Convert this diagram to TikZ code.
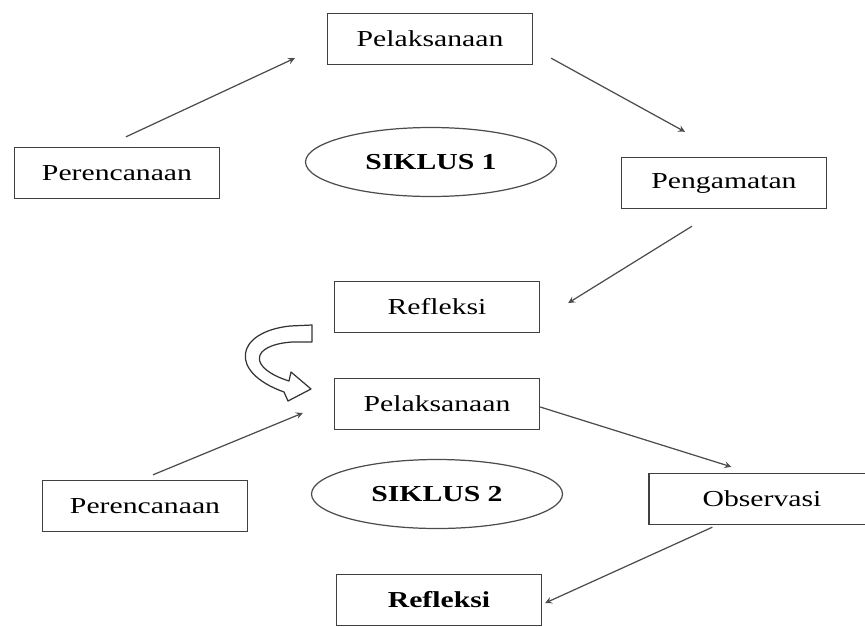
\documentclass[tikz,border=0pt]{standalone}
\usepackage{fontspec}
\setmainfont{Liberation Serif}
\newfontfamily\stagefont[FakeStretch=1.3]{Liberation Serif}
\usetikzlibrary{shapes.geometric}

\begin{document}
\begin{tikzpicture}[x=0.02cm, y=-0.02cm,
        stage/.style={draw=black!75, line width=0.8pt, minimum width=4.1cm, minimum height=1.02cm, inner sep=0pt, font=\stagefont\fontsize{13}{15}\selectfont},
        cycle/.style={ellipse, draw=black!70, line width=0.7pt, minimum width=5.02cm, minimum height=1.38cm, inner sep=0pt, font=\stagefont\bfseries\fontsize{13}{15}\selectfont},
        flow/.style={draw=black!70, line width=0.7pt, -stealth}]
        \useasboundingbox (0, 0) rectangle (865, 626);

        % Siklus 1
        \node[stage] (pel1) at (430, 39) {Pelaksanaan};
        \node[stage] (per1) at (117, 173) {Perencanaan};
        \node[stage] (peng) at (724, 183) {Pengamatan};
        \node[stage] (ref1) at (437, 307) {Refleksi};
        \node[cycle] (sik1) at (431, 162) {SIKLUS 1};

        \draw[flow] ([shift={(9, -10)}]per1.north) -- ([shift={(-32, -7)}]pel1.south west);
        \draw[flow] ([shift={(18, -7)}]pel1.south east) -- ([shift={(-39, -25)}]peng.north);
        \draw[flow] ([shift={(-32, 17)}]peng.south) -- ([shift={(28, -4)}]ref1.east);

        % Turn arrow into siklus 2
        \draw[draw=black!80, line width=0.7pt, fill=white, line join=round]
            (312, 325) -- (290, 326) .. controls (235, 332) and (228, 372) .. (284, 392)
            -- (288, 401) -- (311, 389) -- (291, 372) -- (289, 381)
            .. controls (248, 368) and (250, 345) .. (292, 342) -- (312, 342) -- cycle;

        % Siklus 2
        \node[stage] (pel2) at (437, 404) {Pelaksanaan};
        \node[stage] (per2) at (145, 506) {Perencanaan};
        \node[stage, minimum width=4.52cm] (obs) at (762, 499) {Observasi};
        \node[stage, font=\stagefont\bfseries\fontsize{13}{15}\selectfont] (ref2) at (439, 600) {Refleksi};
        \node[cycle] (sik2) at (437, 494) {SIKLUS 2};

        \draw[flow] ([shift={(8, -5)}]per2.north) -- ([shift={(-31, 9)}]pel2.west);
        \draw[flow] ([shift={(0, 3)}]pel2.east) -- ([shift={(83, -6)}]obs.north west);
        \draw[flow] ([shift={(64, 2)}]obs.south west) -- ([shift={(3, 3)}]ref2.east);
    \end{tikzpicture}
\end{document}
